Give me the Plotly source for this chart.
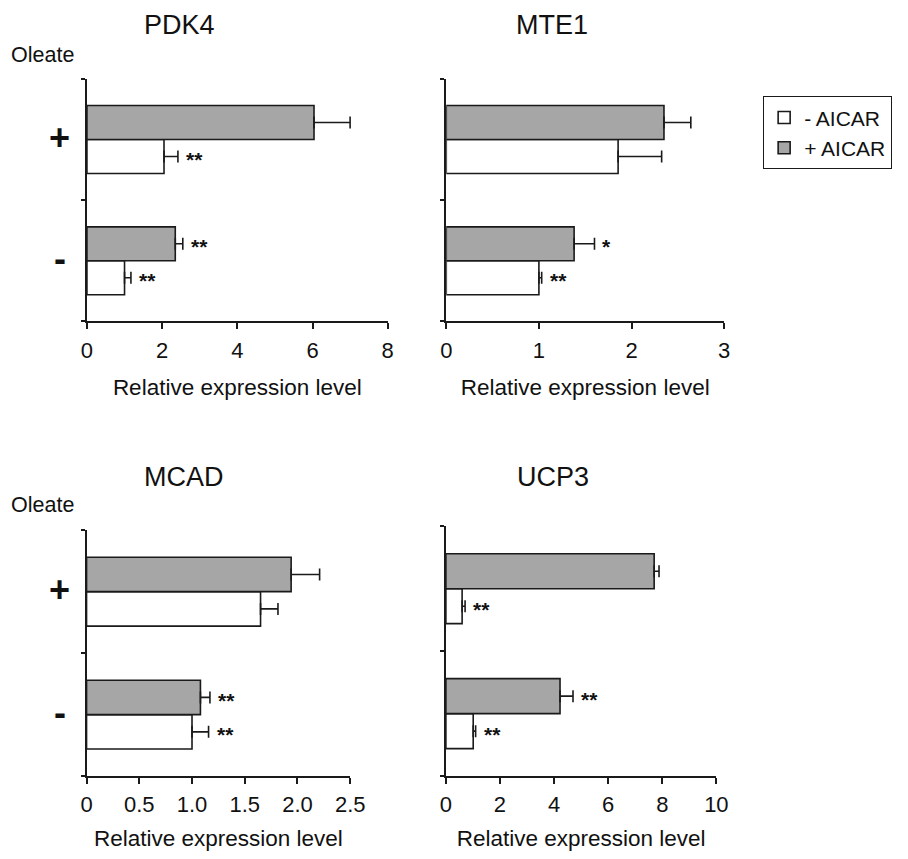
import plotly.graph_objects as go

# The page body has an 8px margin, so the figure is drawn 16px smaller and
# all reference pixel positions are shifted by that margin.
W, H = 908, 859
OFF = 8
FW, FH = W - 2 * OFF, H - 2 * OFF

# ---------------- data ----------------
oleate_levels = [0, 1]            # 0 = "-" oleate, 1 = "+" oleate
oleate_labels = ["-", "+"]
series_names = ["- AICAR", "+ AICAR"]

genes = ["PDK4", "MTE1", "MCAD", "UCP3"]

# values ordered [oleate -, oleate +]
pdk4_no_aicar = [1.00, 2.05]
pdk4_no_aicar_err = [0.17, 0.37]
pdk4_aicar = [2.35, 6.04]
pdk4_aicar_err = [0.20, 0.96]
pdk4_no_aicar_sig = ["**", "**"]
pdk4_aicar_sig = ["**", ""]

mte1_no_aicar = [1.00, 1.855]
mte1_no_aicar_err = [0.03, 0.47]
mte1_aicar = [1.38, 2.35]
mte1_aicar_err = [0.22, 0.29]
mte1_no_aicar_sig = ["**", ""]
mte1_aicar_sig = ["*", ""]

mcad_no_aicar = [1.00, 1.65]
mcad_no_aicar_err = [0.157, 0.165]
mcad_aicar = [1.08, 1.94]
mcad_aicar_err = [0.09, 0.27]
mcad_no_aicar_sig = ["**", ""]
mcad_aicar_sig = ["**", ""]

ucp3_no_aicar = [1.01, 0.60]
ucp3_no_aicar_err = [0.09, 0.11]
ucp3_aicar = [4.22, 7.70]
ucp3_aicar_err = [0.48, 0.18]
ucp3_no_aicar_sig = ["**", "**"]
ucp3_aicar_sig = ["**", ""]

pdk4_ticks = [0, 2, 4, 6, 8]
mte1_ticks = [0, 1, 2, 3]
mcad_ticks = [0, 0.5, 1.0, 1.5, 2.0, 2.5]
mcad_ticktext = ["0", "0.5", "1.0", "1.5", "2.0", "2.5"]
ucp3_ticks = [0, 2, 4, 6, 8, 10]

x_title = "Relative expression level"
row_label = "Oleate"

# ---------------- layout helpers ----------------
FONT = "Liberation Sans, Arial, sans-serif"
GRAY = "#a6a6a6"
LINE = "#1a1a1a"
TEXT = "#111111"
BARGAP = 0.44


def fx(px):
    return (px - OFF) / FW


def fy(py):
    return 1 - (py - OFF) / FH


def px_x(a, b):
    return [fx(a), fx(b)]


def px_y(top, bottom):
    return [fy(bottom), fy(top)]


panels = [
    dict(name="PDK4", white=pdk4_no_aicar, white_err=pdk4_no_aicar_err,
         gray=pdk4_aicar, gray_err=pdk4_aicar_err,
         white_sig=pdk4_no_aicar_sig, gray_sig=pdk4_aicar_sig,
         ticks=pdk4_ticks, ticktext=[str(t) for t in pdk4_ticks],
         xdom=px_x(82.7, 390.7), ydom=px_y(79.3, 323.3),
         title_x=177, title_y=None, labels=True, oleate_y=55),
    dict(name="MTE1", white=mte1_no_aicar, white_err=mte1_no_aicar_err,
         gray=mte1_aicar, gray_err=mte1_aicar_err,
         white_sig=mte1_no_aicar_sig, gray_sig=mte1_aicar_sig,
         ticks=mte1_ticks, ticktext=[str(t) for t in mte1_ticks],
         xdom=px_x(450.7, 735.3), ydom=px_y(79.3, 323.3),
         title_x=559, title_y=None, labels=False, oleate_y=None),
    dict(name="MCAD", white=mcad_no_aicar, white_err=mcad_no_aicar_err,
         gray=mcad_aicar, gray_err=mcad_aicar_err,
         white_sig=mcad_no_aicar_sig, gray_sig=mcad_aicar_sig,
         ticks=mcad_ticks, ticktext=mcad_ticktext,
         xdom=px_x(82.3, 352.3), ydom=px_y(533.3, 780.7),
         title_x=182, title_y=480, labels=True, oleate_y=508),
    dict(name="UCP3", white=ucp3_no_aicar, white_err=ucp3_no_aicar_err,
         gray=ucp3_aicar, gray_err=ucp3_aicar_err,
         white_sig=ucp3_no_aicar_sig, gray_sig=ucp3_aicar_sig,
         ticks=ucp3_ticks, ticktext=[str(t) for t in ucp3_ticks],
         xdom=px_x(450.3, 727.3), ydom=px_y(529.3, 780.7),
         title_x=560, title_y=480, labels=False, oleate_y=None),
]

fig = go.Figure()
annotations = []
layout_axes = {}

for i, p in enumerate(panels):
    n = i + 1
    xa = "x" if n == 1 else f"x{n}"
    ya = "y" if n == 1 else f"y{n}"
    for sname, vals, errs, color in [
        (series_names[0], p["white"], p["white_err"], "white"),
        (series_names[1], p["gray"], p["gray_err"], GRAY),
    ]:
        fig.add_trace(go.Bar(
            x=vals, y=oleate_levels, orientation="h", name=sname,
            xaxis=xa, yaxis=ya, showlegend=(n == 1), legendgroup=sname,
            marker=dict(color=color, line=dict(color=LINE, width=1.6)),
            error_x=dict(type="data", array=errs, arrayminus=[0] * len(errs),
                         symmetric=False, color=LINE, thickness=1.6, width=6),
            hoverinfo="x+name",
        ))

    half = (1 - BARGAP) / 4
    for vals, errs, sigs, off in [
        (p["white"], p["white_err"], p["white_sig"], -half),
        (p["gray"], p["gray_err"], p["gray_sig"], half),
    ]:
        for lvl, v, e, s in zip(oleate_levels, vals, errs, sigs):
            if s:
                annotations.append(dict(
                    x=v + e, y=lvl + off, xref=xa, yref=ya, text=f"<b>{s}</b>",
                    showarrow=False, xanchor="left", yanchor="middle",
                    xshift=6, yshift=-3,
                    font=dict(family=FONT, size=21, color=TEXT)))

    # gene title
    if p["title_y"] is None:
        ty, tanchor = 1.0, "top"
    else:
        ty, tanchor = fy(p["title_y"]), "middle"
    annotations.append(dict(
        x=fx(p["title_x"]), y=ty,
        xref="paper", yref="paper", text=p["name"], showarrow=False,
        xanchor="center", yanchor=tanchor,
        font=dict(family=FONT, size=27, color=TEXT)))

    if p["labels"]:
        annotations.append(dict(
            x=fx(3), y=fy(p["oleate_y"]), xref="paper", yref="paper",
            text=row_label, showarrow=False, xanchor="left", yanchor="middle",
            font=dict(family=FONT, size=21.5, color=TEXT)))
        for lvl, lab in zip(oleate_levels, oleate_labels):
            annotations.append(dict(
                x=fx(55), y=lvl, xref="paper", yref=ya,
                text=f"<b>{lab}</b>", showarrow=False,
                xanchor="center", yanchor="middle", yshift=2,
                font=dict(family=FONT, size=36, color=TEXT)))

    xkey = "xaxis" if n == 1 else f"xaxis{n}"
    ykey = "yaxis" if n == 1 else f"yaxis{n}"
    layout_axes[xkey] = dict(
        domain=p["xdom"], anchor=ya, range=[0, p["ticks"][-1]],
        tickvals=p["ticks"], ticktext=p["ticktext"],
        showline=True, linecolor=LINE, linewidth=1.6,
        ticks="outside", ticklen=6, tickwidth=1.6, tickcolor=LINE,
        ticklabelstandoff=2,
        showgrid=False, zeroline=False, fixedrange=True,
        tickfont=dict(family=FONT, size=22, color=TEXT),
        title=dict(text=x_title, standoff=18,
                   font=dict(family=FONT, size=22.5, color=TEXT)),
    )
    layout_axes[ykey] = dict(
        domain=p["ydom"], anchor=xa, range=[-0.5, 1.5],
        tickvals=[-0.5, 0.5, 1.5], showticklabels=False,
        showline=True, linecolor=LINE, linewidth=1.6,
        ticks="outside", ticklen=4, tickwidth=1.6, tickcolor=LINE,
        showgrid=False, zeroline=False, fixedrange=True,
    )

fig.update_layout(
    width=FW, height=FH,
    margin=dict(l=0, r=0, t=0, b=0),
    paper_bgcolor="white", plot_bgcolor="white",
    barmode="group", bargap=BARGAP, bargroupgap=0,
    annotations=annotations,
    showlegend=True,
    legend=dict(
        x=fx(775), y=fy(96.7), xanchor="left", yanchor="top",
        bordercolor=LINE, borderwidth=1.2, bgcolor="white",
        font=dict(family=FONT, size=21, color=TEXT),
        itemwidth=30, traceorder="normal", tracegroupgap=0,
    ),
    **layout_axes,
)

fig.write_html("out.html")
